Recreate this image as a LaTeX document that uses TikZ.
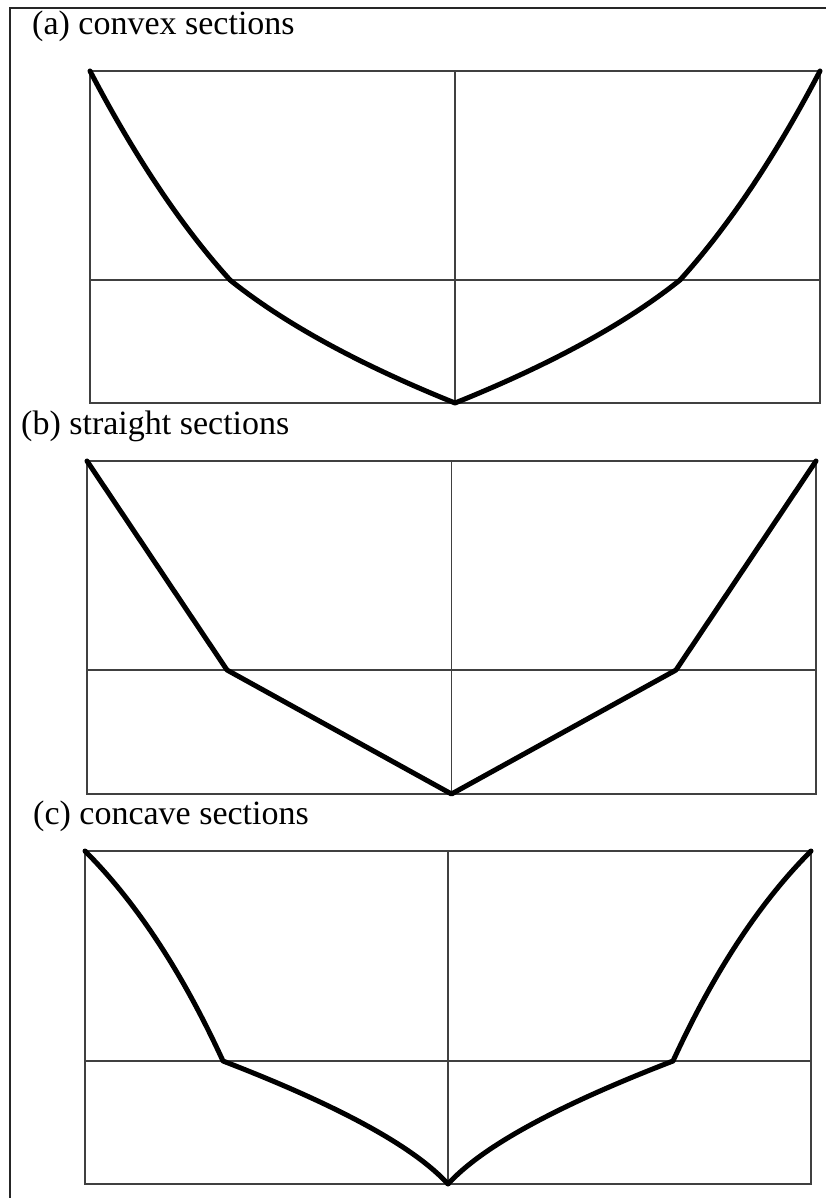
\documentclass[tikz,border=0pt]{standalone}
\usepackage{fontspec}
\setmainfont{Liberation Serif}
\begin{document}
\begin{tikzpicture}[x=1pt,y=-1pt,
  frame/.style={line width=2pt, black!85},
  panel/.style={line width=1.5pt, black!75},
  axis/.style={line width=1.3pt, black!75},
  section/.style={line width=5pt, black, line join=round, line cap=round},
  lbl/.style={anchor=base west, inner sep=0pt, font=\fontsize{34}{40}\selectfont}]
\useasboundingbox (0,0) rectangle (826,1198);
\draw[frame] (10,1198) -- (10,8) -- (826,8);

% ---------- panel (a)
\node[lbl] (la) at (32,35) {(a) convex sections};
\coordinate (a-nw) at (90,71);
\coordinate (a-se) at (820,403);
\coordinate (a-l) at (230,280);
\coordinate (a-b) at (455,403);
\coordinate (a-r) at (680,280);
\coordinate (a-ne) at (820,71);
\draw[panel] (a-nw) rectangle (a-se);
\draw[axis] (90,280) -- (820,280);
\draw[axis] (455,71) -- (455,403);
\draw[section] (a-nw) .. controls (135,157) and (181.7,226.7) .. (a-l)
  .. controls (284.3,323.5) and (359.3,364.5) .. (a-b)
  .. controls (550.7,364.5) and (625.7,323.5) .. (a-r)
  .. controls (728.3,226.7) and (775,157) .. (a-ne);

% ---------- panel (b)
\node[lbl] (lb) at (21,434) {(b) straight sections};
\coordinate (b-nw) at (87,461);
\coordinate (b-se) at (816,794);
\coordinate (b-l) at (227,670);
\coordinate (b-b) at (451.5,794);
\coordinate (b-r) at (676,670);
\coordinate (b-ne) at (816,461);
\draw[panel] (b-nw) rectangle (b-se);
\draw[axis] (87,670) -- (816,670);
\draw[axis] (451.5,461) -- (451.5,794);
\draw[section] (b-nw) -- (b-l) -- (b-b) -- (b-r) -- (b-ne);

% ---------- panel (c)
\node[lbl] (lc) at (33,824) {(c) concave sections};
\coordinate (c-nw) at (85,851);
\coordinate (c-se) at (811,1184);
\coordinate (c-l) at (223,1061);
\coordinate (c-b) at (448,1184);
\coordinate (c-r) at (673,1061);
\coordinate (c-ne) at (811,851);
\draw[panel] (c-nw) rectangle (c-se);
\draw[axis] (85,1061) -- (811,1061);
\draw[axis] (448,851) -- (448,1184);
\draw[section] (c-nw) .. controls (136.3,902.3) and (182.3,972.3) .. (c-l)
  .. controls (339,1105.7) and (414,1146.7) .. (c-b)
  .. controls (482,1146.7) and (557,1105.7) .. (c-r)
  .. controls (713.7,972.3) and (759.7,902.3) .. (c-ne);
\end{tikzpicture}
\end{document}
